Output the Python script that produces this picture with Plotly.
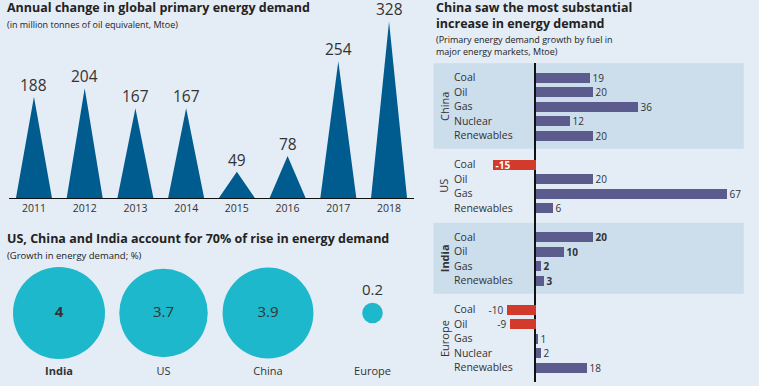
import plotly.graph_objects as go

W, H = 759, 386

# ---------------- data ----------------
years = ["2011", "2012", "2013", "2014", "2015", "2016", "2017", "2018"]
demand_change = [188, 204, 167, 167, 49, 78, 254, 328]

countries = ["India", "US", "China", "Europe"]
growth_pct = [4, 3.7, 3.9, 0.2]

group_names = ["China", "US", "India", "Europe"]
china_fuels = ["Coal", "Oil", "Gas", "Nuclear", "Renewables"]
china_vals = [19, 20, 36, 12, 20]
us_fuels = ["Coal", "Oil", "Gas", "Renewables"]
us_vals = [-15, 20, 67, 6]
india_fuels = ["Coal", "Oil", "Gas", "Renewables"]
india_vals = [20, 10, 2, 3]
europe_fuels = ["Coal", "Oil", "Gas", "Nuclear", "Renewables"]
europe_vals = [-10, -9, 1, 2, 18]

# ---------------- styles ----------------
BG = "#E4ECF5"
BAND = "#CCDDEC"
TRI = "#005B8F"
CIRC = "#1DB8CC"
POS = "#5B5B8E"
NEG = "#D23A2B"
TXT = "#222222"
TXT2 = "#333333"
FONT = "Open Sans"


def px(x):
    return x / W


def py(y):
    return 1 - y / H


fig = go.Figure()

# ---------- triangles chart ----------
tx, ty = [], []
hw = 0.355
for i, v in enumerate(demand_change):
    tx += [i - hw, i, i + hw, None]
    ty += [0, v, 0, None]
fig.add_trace(go.Scatter(x=tx, y=ty, mode="lines", fill="toself", fillcolor=TRI,
                         line=dict(width=0, color=TRI), xaxis="x", yaxis="y",
                         hoverinfo="skip", showlegend=False))

annotations = []
for i, v in enumerate(demand_change):
    annotations.append(dict(x=i, y=v, xref="x", yref="y", text=str(v), showarrow=False,
                            yanchor="bottom", yshift=0, borderpad=0,
                            font=dict(size=15.5, color=TXT2)))

# ---------- circles ----------
circle_text = [("<b>%s</b>" % f"{v:g}") if c == "India" else f"{v:g}"
               for c, v in zip(countries, growth_pct)]
circle_pos = ["top center" if v < 1 else "middle center" for v in growth_pct]
fig.add_trace(go.Scatter(x=list(range(len(countries))), y=[0] * len(countries),
                         mode="markers+text", xaxis="x2", yaxis="y2",
                         marker=dict(size=growth_pct, sizemode="area", opacity=1,
                                     sizeref=2 * max(growth_pct) / 92 ** 2, color=CIRC,
                                     line=dict(width=0)),
                         text=circle_text, textposition=circle_pos,
                         textfont=dict(size=15, color=TXT2, family=FONT),
                         cliponaxis=False, hoverinfo="skip", showlegend=False))

# ---------- bars ----------
groups = [(china_fuels, china_vals), (us_fuels, us_vals),
          (india_fuels, india_vals), (europe_fuels, europe_vals)]
rows, vals, labels, bar_text, bar_pos, bar_tcol, bar_col = [], [], [], [], [], [], []
group_rows = []
r = 0
for gname, (fuels, gv) in zip(group_names, groups):
    start = r
    for f, v in zip(fuels, gv):
        rows.append(r)
        vals.append(v)
        labels.append(f)
        t = str(v)
        inside = v < 0 and abs(v) >= 15
        if gname == "India" or inside:
            t = "<b>%s</b>" % t
        bar_text.append(t)
        bar_pos.append("inside" if inside else "outside")
        bar_tcol.append("white" if inside else TXT2)
        bar_col.append(NEG if v < 0 else POS)
        r += 1
    group_rows.append((gname, start, r - 1))
    r += 1

fig.add_trace(go.Bar(x=vals, y=rows, orientation="h", width=0.69, xaxis="x3", yaxis="y3",
                     marker=dict(color=bar_col, line=dict(width=0)),
                     text=bar_text, textposition=bar_pos, insidetextanchor="end",
                     textangle=0, constraintext="none",
                     textfont=dict(size=10, color=bar_tcol, family=FONT),
                     cliponaxis=False, hoverinfo="skip", showlegend=False))

shapes = []
for gname, a, b in group_rows:
    if gname in ("China", "India"):
        shapes.append(dict(type="rect", xref="x3 domain", yref="y3", x0=0, x1=1,
                           y0=a - 0.95, y1=b + 0.95, fillcolor=BAND,
                           line=dict(width=0), layer="below"))
    annotations.append(dict(x=px(444), y=(a + b) / 2, xref="paper", yref="y3",
                            text=("<b>%s</b>" % gname) if gname == "India" else gname,
                            textangle=-90, showarrow=False, xanchor="center",
                            font=dict(size=11, color=TXT2)))

for rr, lab in zip(rows, labels):
    annotations.append(dict(x=px(452), y=rr, xref="paper", yref="y3", text=lab,
                            showarrow=False, xanchor="left",
                            font=dict(size=10.5, color=TXT2)))

# ---------- titles ----------
def title(x, y, text, size, bold=True, anchor="middle"):
    annotations.append(dict(x=px(x), y=py(y), xref="paper", yref="paper",
                            text=("<b>%s</b>" % text) if bold else text,
                            showarrow=False, xanchor="left", yanchor=anchor, align="left",
                            font=dict(size=size, color=TXT)))


title(5, 8, "Annual change in global primary energy demand", 12.5)
title(5, 24, "(in million tonnes of oil equivalent, Mtoe)", 9, bold=False)
title(5, 238, "US, China and India account for 70% of rise in energy demand", 12.5)
title(5, 255, "(Growth in energy demand; %)", 9.5, bold=False)
title(434, 15.5, "China saw the most substantial<br>increase in energy demand", 12.5)
title(434, 45.5, "(Primary energy demand growth by fuel in<br>major energy markets, Mtoe)", 9,
      bold=False)

fig.update_layout(
    width=W, height=H, margin=dict(l=0, r=0, t=0, b=0),
    paper_bgcolor=BG, plot_bgcolor="rgba(0,0,0,0)",
    font=dict(family=FONT, color=TXT2),
    showlegend=False,
    xaxis=dict(domain=[px(8.6), px(414.4)], range=[-0.5, 7.5], anchor="y",
               tickvals=list(range(len(years))), ticktext=years,
               tickfont=dict(size=10.5, color=TXT2), showline=True, linecolor="#111",
               linewidth=1.2, ticks="", showgrid=False, zeroline=False, fixedrange=True),
    yaxis=dict(domain=[py(198), py(21.5)], range=[0, 328], anchor="x", visible=False),
    xaxis2=dict(domain=[px(6.75), px(424.75)], range=[-0.5, 3.5], anchor="y2",
                tickvals=list(range(len(countries))),
                ticktext=[("<b>%s</b>" % c) if c == "India" else c for c in countries],
                tickfont=dict(size=11, color=TXT2), showline=False, ticks="",
                showgrid=False, zeroline=False),
    yaxis2=dict(domain=[py(363), py(263)], range=[-1, 1], anchor="x2", visible=False),
    xaxis3=dict(domain=[px(433.5), px(743.8)], range=[-35.5, 73], anchor="y3",
                showticklabels=False, ticks="", showgrid=False, showline=False,
                zeroline=True, zerolinecolor="#111", zerolinewidth=1.5),
    yaxis3=dict(domain=[py(381.5), py(62.5)], range=[21, -1], anchor="x3", visible=False),
    shapes=shapes, annotations=annotations, bargap=0,
)

fig.write_html("out.html", config={"displayModeBar": False},
               post_script="document.body.style.margin='0';document.body.style.padding='0';"
                           "document.body.style.background='%s';" % BG)
